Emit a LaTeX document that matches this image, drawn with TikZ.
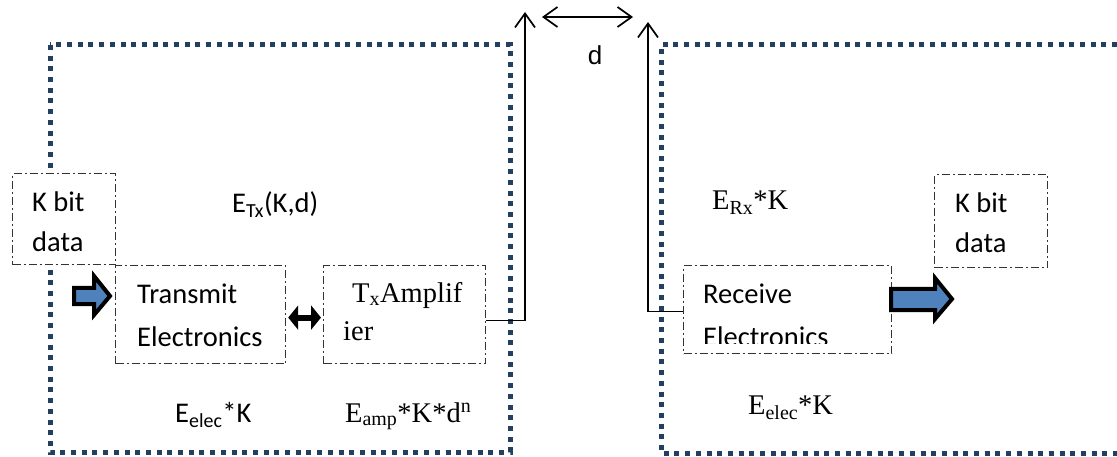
\documentclass[tikz,border=0pt]{standalone}
\usepackage{fontspec}
\setmainfont{Carlito}
\newfontfamily\tms{Liberation Serif}
\newfontfamily\arl{Liberation Sans}
\usetikzlibrary{arrows.meta}
\definecolor{dotblue}{RGB}{36,64,97}
\definecolor{arrblue}{RGB}{79,129,189}
\begin{document}
\begin{tikzpicture}[x=1pt,y=-1pt,
  dotbox/.style={draw=dotblue,line width=5pt,dash pattern=on 5pt off 5.7pt},
  dashbox/.style={draw=black!80,line width=1.2pt,dash pattern=on 8pt off 3pt on 2pt off 3pt,fill=white,rectangle,inner sep=0pt,anchor=north west},
  txt/.style={anchor=base west,inner sep=0pt,font=\fontsize{28.5}{34}\selectfont},
  stxt/.style={anchor=base west,inner sep=0pt,font=\tms\fontsize{28.5}{34}\selectfont},
  wire/.style={line width=1.7pt},
  mybarb/.tip={Straight Barb[length=14pt,width=20pt]},
  blk/.style={draw=black,line width=4pt,fill=arrblue,line join=miter}]
\useasboundingbox (0,0) rectangle (1117,457);
% dotted enclosures
\draw[dotbox] (50,45) rectangle (510,452);
\draw[dotbox] (1117,45) -- (661,45) -- (661,453) -- (1117,453);
% boxes
\node[dashbox,minimum width=103pt,minimum height=91pt] (kin) at (12,173) {};
\node[dashbox,minimum width=170pt,minimum height=98pt] (tx) at (115,265) {};
\node[dashbox,minimum width=162pt,minimum height=98pt] (amp) at (323,265) {};
\node[dashbox,minimum width=208pt,minimum height=88pt] (rx) at (683,265) {};
\node[dashbox,minimum width=113pt,minimum height=93pt] (kout) at (934,174) {};
% texts
\node[txt] (kin1) at (32,212) {K bit};
\node[txt] (kin2) at (32,252) {data};
\node[txt] (tx1) at (137,303) {Transmit};
\node[txt] (tx2) at (137,346) {Electronics};
\node[stxt] (amp1) at (352,302) {T\textsubscript{x}Amplif};
\node[stxt] (amp2) at (343,340) {ier};
\node[txt] (rx1) at (703,303) {Receive};
\begin{scope}
\clip (683,265) rectangle (891,343);
\node[txt] (rx2) at (703,346) {Electronics};
\end{scope}
\node[txt] (kout1) at (955,213) {K bit};
\node[txt] (kout2) at (955,253) {data};
\node[txt] (etx) at (232,213) {E\textsubscript{Tx}(K,d)};
\node[stxt] (erx) at (712,210) {E\textsubscript{Rx}*K};
\node[txt] (eel1) at (175,422) {E\textsubscript{elec}*K};
\node[stxt] (eamp) at (345,422) {E\textsubscript{amp}*K*d\textsuperscript{n}};
\node[stxt] (eel2) at (748,414) {E\textsubscript{elec}*K};
\node[anchor=base,inner sep=0pt,font=\arl\fontsize{26}{30}\selectfont] (dl) at (595,65) {d};
% connectors
\coordinate (ltop) at (525,12);
\coordinate (rtop) at (648,22);
\coordinate (da) at (542,17);
\coordinate (db) at (633,17);
\draw[wire,-{mybarb}] ([yshift=-6pt]amp.east) -| (ltop);
\draw[wire,-{mybarb}] ([yshift=-2pt]rx.west) -| (rtop);
\draw[wire,{mybarb}-{mybarb}] (da) -- (db);
\draw[line width=6pt,{Triangle[length=10pt,width=24pt]}-{Triangle[length=10pt,width=24pt]}]
  ([xshift=2pt,yshift=-3pt]tx.east) -- ([xshift=-2pt,yshift=-3pt]amp.west);
% block arrows
\draw[blk] (74,288) -- (94,288) -- (94,276) -- (110,296) -- (94,315) -- (94,304) -- (74,304) -- cycle;
\draw[blk] (891,289) -- (935,289) -- (935,278) -- (952,299) -- (935,319) -- (935,310) -- (891,310) -- cycle;
\end{tikzpicture}
\end{document}
